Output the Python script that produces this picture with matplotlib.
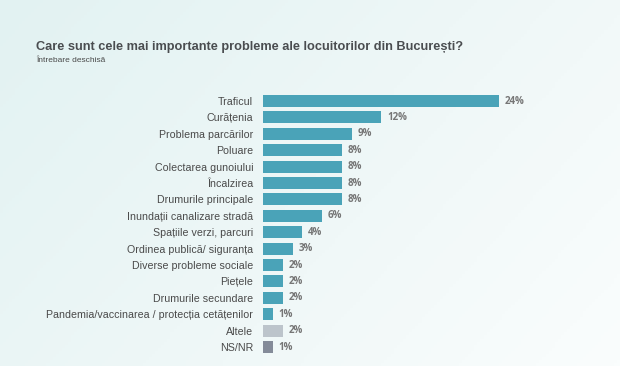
import matplotlib
matplotlib.use("Agg")
import matplotlib.pyplot as plt
import numpy as np
from matplotlib.colors import LinearSegmentedColormap

categories = ["Traficul", "Curățenia", "Problema parcărilor", "Poluare",
              "Colectarea gunoiului", "Încalzirea", "Drumurile principale",
              "Inundații canalizare stradă", "Spațiile verzi, parcuri",
              "Ordinea publică/ siguranța", "Diverse probleme sociale",
              "Piețele", "Drumurile secundare",
              "Pandemia/vaccinarea / protecția cetățenilor", "Altele", "NS/NR"]
values = [24, 12, 9, 8, 8, 8, 8, 6, 4, 3, 2, 2, 2, 1, 2, 1]
value_labels = [f"{v}%" for v in values]

teal = "#4AA3B8"
colors = [teal] * 14 + ["#BCC4CB", "#848B99"]

title = "Care sunt cele mai importante probleme ale locuitorilor din București?"
subtitle = "Întrebare deschisă"

plt.rcParams['font.family'] = ['Liberation Sans', 'DejaVu Sans']

fig = plt.figure(figsize=(6.2, 3.66), dpi=100)

# background gradient
bg = fig.add_axes([0, 0, 1, 1], zorder=-10)
nx, ny = 200, 120
xx, yy = np.meshgrid(np.linspace(0, 1, nx), np.linspace(0, 1, ny))
t = np.clip(0.65 * xx + 0.35 * yy, 0, 1)
cmap = LinearSegmentedColormap.from_list("bg", ["#E2F2F2", "#EEF7F7", "#FAFDFD"])
bg.imshow(t, cmap=cmap, aspect="auto", extent=[0, 1, 0, 1], origin="upper")
bg.axis("off")

ax = fig.add_axes([263/620, 1 - 355.2/366, 295/620, (355.2 - 92.8)/366])
ax.set_facecolor("none")
y = np.arange(len(categories))
ax.barh(y, values, height=0.74, color=colors)
ax.set_ylim(len(categories) - 0.5, -0.5)
ax.set_xlim(0, 30)
ax.set_yticks(y)
ax.set_yticklabels(categories, fontsize=7.7, color="#4A4A4A")
ax.tick_params(axis="y", length=0, pad=7)
ax.set_xticks([])
for s in ax.spines.values():
    s.set_visible(False)

for yi, v, lab in zip(y, values, value_labels):
    ax.annotate(lab, (v, yi), xytext=(4.3, 0), textcoords="offset points",
                va="center", ha="left", fontsize=7, fontweight="bold",
                color="#767676", family=["Open Sans", "DejaVu Sans"])

fig.text(36/620, 1 - 47/366, title, fontsize=9.2, fontweight="bold",
         color="#4A4D50", va="center", ha="left")
fig.text(36/620, 1 - 60/366, subtitle, fontsize=6,
         family=["Liberation Sans Narrow", "Liberation Sans"],
         color="#4A4A4A", va="center", ha="left")

fig.savefig("out.png", dpi=100)
